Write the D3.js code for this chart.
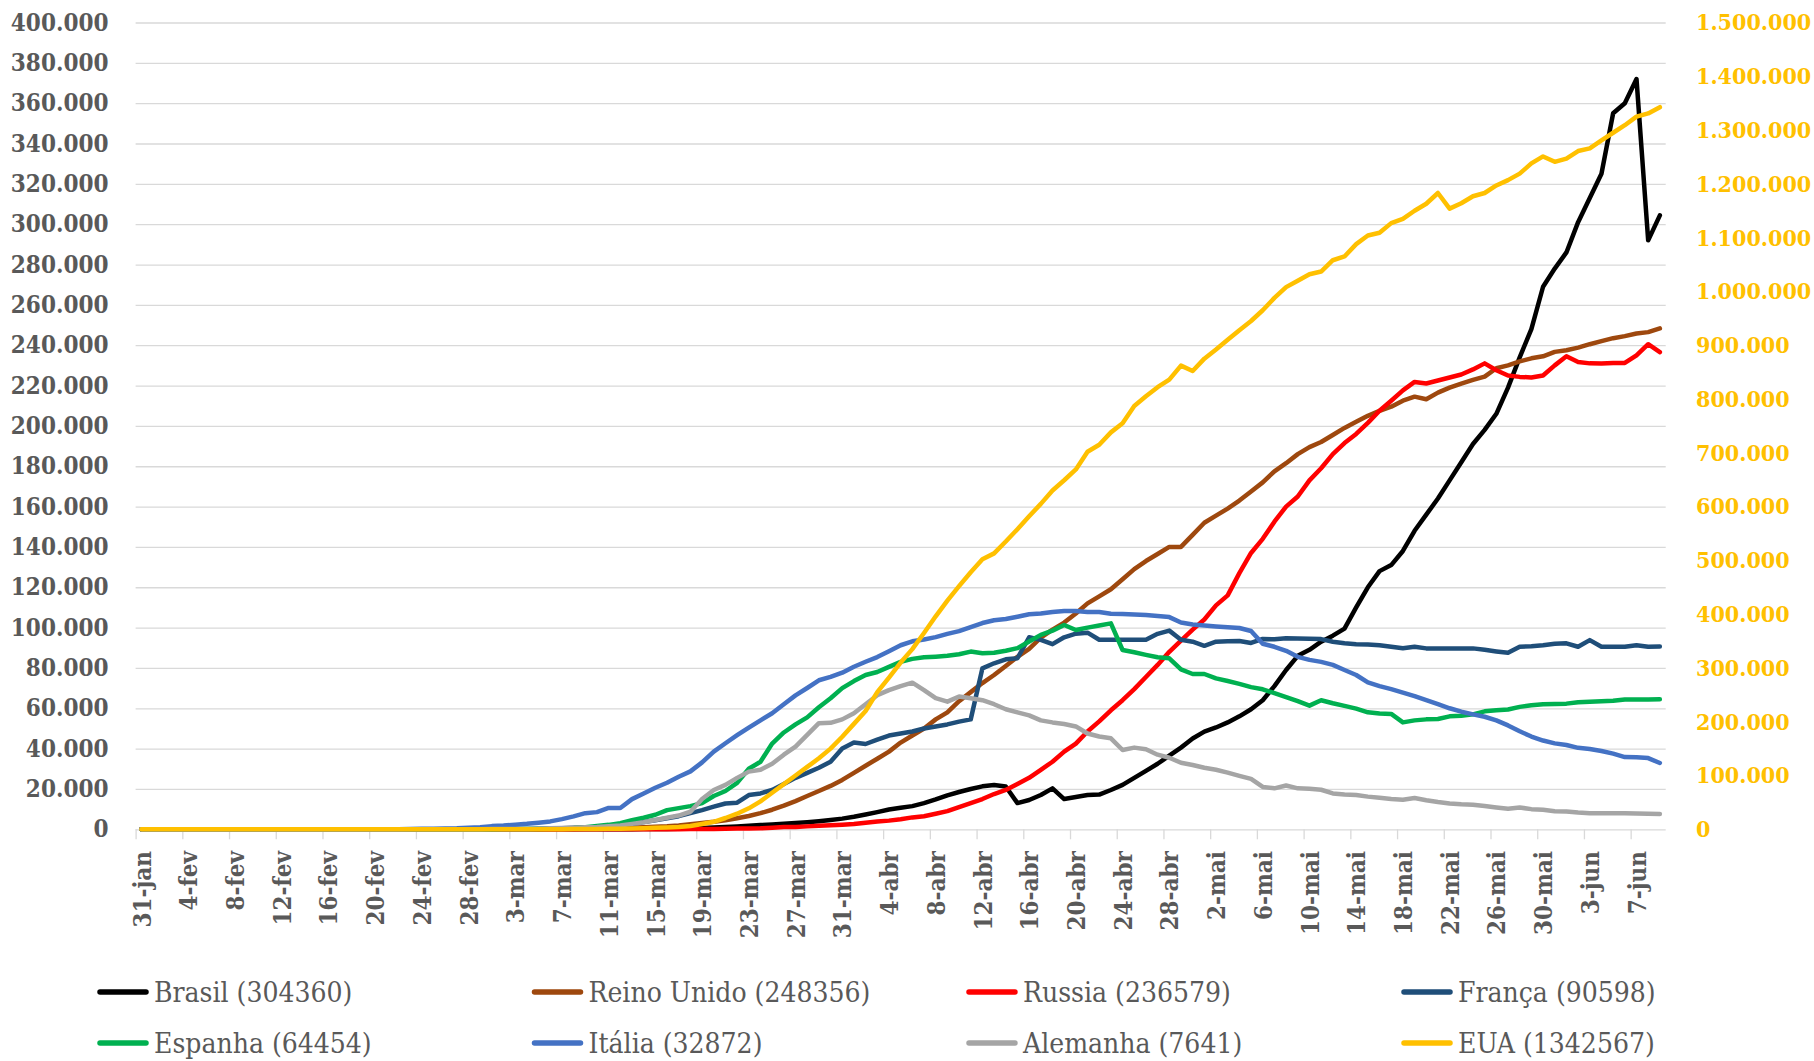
<!DOCTYPE html>
<html>
<head>
<meta charset="utf-8">
<script src="https://cdn.jsdelivr.net/npm/d3@7"></script>
<style>
  html, body { margin: 0; padding: 0; background: #ffffff; }
  svg { display: block; }
  .ax text { font-family: "DejaVu Serif Condensed", "DejaVu Serif", serif; font-stretch: condensed; font-weight: bold; }
  .leg text { font-family: "DejaVu Serif Condensed", "DejaVu Serif", serif; font-stretch: condensed; }
</style>
</head>
<body>
<svg id="chart" width="1814" height="1061"></svg>
<script>
// ---------- categories (31-jan .. 9-jun) ----------
const monthSpans = [["jan",31,31],["fev",1,29],["mar",1,31],["abr",1,30],["mai",1,31],["jun",1,9]];
const categories = monthSpans.flatMap(([m,a,b]) => d3.range(a, b + 1).map(d => d + "-" + m));

// ---------- tick labels ----------
const leftTicks  = [0,20000,40000,60000,80000,100000,120000,140000,160000,180000,200000,
                    220000,240000,260000,280000,300000,320000,340000,360000,380000,400000];
const rightTicks = [0,100000,200000,300000,400000,500000,600000,700000,800000,900000,
                    1000000,1100000,1200000,1300000,1400000,1500000];

// ---------- series ----------
const brasil = [
  0,0,0,0,0,0,0,0,0,0,
  0,0,0,0,0,0,0,0,0,0,
  0,0,0,0,0,0,1,1,1,2,
  2,2,2,4,4,13,13,20,25,31,
  38,52,76,97,119,198,232,287,600,900,
  1100,1400,1800,2100,2400,2700,3100,3500,4000,4600,
  5300,6200,7300,8500,9800,10700,11500,13000,14800,16800,
  18500,20000,21300,22000,21200,13000,14500,17000,20300,15000,
  16000,17000,17200,19500,22000,25500,29000,32500,36500,40500,
  45000,48400,50500,53000,56000,59500,64000,71000,79000,86000,
  89000,93000,96000,99500,110000,120000,128000,131000,138000,148000,
  156000,164000,173000,182000,191000,198000,206000,219000,234000,248000,
  269000,278000,286000,301000,313000,325000,355000,360000,372000,292000,
  304360];
const reinoUnido = [
  2,2,2,2,2,2,2,3,3,8,
  8,8,9,9,9,9,9,9,9,9,
  9,9,9,4,4,5,5,12,12,15,
  27,30,43,40,68,99,148,186,254,303,
  436,530,770,1050,1300,1480,1860,2540,3150,3750,
  4500,5500,6600,8000,9700,11700,14000,16500,19000,21500,
  24500,28000,31500,35000,38500,43000,46500,50000,54500,58000,
  63500,68000,72500,76500,81000,85500,89500,95000,99000,102500,
  107000,112000,115500,119000,124000,129000,133000,136500,140000,140000,
  146000,152000,155500,159000,163000,167500,172000,177500,181500,186000,
  189500,192000,195500,199000,202000,205000,207500,209500,212500,214500,
  213200,216500,219000,221000,222800,224400,228600,230000,232000,233500,
  234500,236700,237500,238800,240500,242000,243500,244500,245800,246500,
  248356];
const russia = [
  2,2,2,2,2,2,2,2,2,2,
  2,2,0,0,0,0,0,0,0,0,
  0,0,0,0,0,0,0,0,0,0,
  1,1,1,1,1,1,3,6,7,12,
  19,25,31,42,52,59,84,109,140,190,
  300,340,430,480,800,1100,1200,1450,1700,1950,
  2250,2600,3300,3850,4300,5000,5900,6500,7700,9000,
  11000,13000,15000,17500,19500,22500,25500,29500,33500,38500,
  42500,48500,53500,59000,64000,69500,75500,81500,88000,93500,
  99000,104000,111000,116000,127000,137000,144000,152500,160000,165000,
  173000,179000,186000,191500,196000,201500,207500,212500,217600,221800,
  221000,222500,224000,225500,228000,231000,227600,225000,224300,224000,
  225000,230000,234500,231700,231000,230900,231200,231200,235000,240500,
  236579];
const franca = [
  5,5,5,5,5,5,5,5,6,10,
  10,10,10,10,10,7,7,7,7,7,
  7,7,7,7,7,7,6,23,45,50,
  86,116,176,178,270,362,550,801,1050,1200,
  1700,2200,2800,3600,4500,5500,6500,8000,9500,11200,
  12800,13200,17000,17800,19500,22500,25500,28000,30500,33500,
  40000,43000,42300,44500,46500,47500,48500,50000,51000,52000,
  53400,54500,79800,82300,84300,84800,95200,93900,91800,95200,
  97000,97500,94000,94000,94000,94000,94000,96900,98500,94000,
  93000,91000,93000,93200,93400,92400,94400,94200,94700,94600,
  94500,94300,93000,92200,91800,91600,91300,90500,89800,90500,
  89700,89700,89700,89700,89700,89000,88200,87500,90500,90700,
  91200,92000,92200,90500,93800,90500,90500,90500,91300,90500,
  90598];
const espanha = [
  0,1,1,1,1,1,1,1,1,2,
  2,2,2,2,2,2,2,2,2,2,
  2,2,2,2,1,1,11,13,29,41,
  70,100,140,140,200,330,400,600,1000,1600,
  2200,3000,4500,5700,7200,9500,10500,11500,13000,16500,
  19000,23000,30000,33500,42500,48000,52000,55500,60500,65000,
  70000,73500,76500,78000,80500,83000,84500,85300,85600,86000,
  86800,88100,87300,87500,88500,89800,93100,96400,98500,101300,
  98800,100000,101000,102100,88900,87800,86500,85300,84800,79300,
  77000,77000,74800,73500,72100,70500,69400,67500,65500,63500,
  61300,64000,62500,61200,59800,58000,57400,57200,53000,54000,
  54500,54700,56000,56300,57000,58500,59000,59400,60700,61500,
  62000,62100,62300,63000,63200,63500,63700,64300,64300,64400,
  64454];
const italia = [
  2,2,2,2,2,2,2,3,3,3,
  3,3,3,3,3,3,3,3,3,3,
  3,17,76,150,221,311,385,528,821,1049,
  1577,1835,2263,2706,3296,3916,5061,6387,7985,8514,
  10590,10590,14955,17750,20603,23073,26062,28710,33190,38549,
  42681,46638,50418,54030,57521,62013,66414,70065,73880,75528,
  77635,80572,83049,85388,88274,91246,93187,94067,95262,96877,
  98273,100269,102253,103616,104291,105418,106607,106962,107771,108257,
  108237,107709,107699,106848,106800,106500,106300,105800,105200,102500,
  101500,101000,100600,100200,99800,98300,92000,90500,88500,85500,
  84000,83000,81500,79000,76500,72800,71000,69500,67800,66000,
  64000,62000,60000,58300,57000,55800,54000,51500,48600,46000,
  44000,42600,41800,40400,39800,38800,37500,35800,35700,35300,
  32872];
const alemanha = [
  5,5,7,9,11,11,11,11,11,13,
  13,14,14,14,15,15,14,14,14,14,
  2,2,2,2,2,2,7,14,35,40,
  100,113,141,176,244,468,645,781,1000,1100,
  1500,1900,2700,3500,4600,5700,6800,8700,15000,19500,
  22000,25500,28600,29500,32500,37000,41000,46800,52600,52800,
  54500,57500,62000,66500,69000,71000,72700,69000,65000,63300,
  65800,65000,64000,62000,59500,58000,56500,54000,53000,52200,
  51000,47500,46000,45100,39300,40500,39700,37000,35500,33000,
  31900,30500,29500,28100,26500,25000,21000,20300,21700,20300,
  20100,19600,17800,17300,17000,16200,15600,15000,14700,15500,
  14400,13500,12800,12400,12200,11500,10800,10200,10800,10000,
  9700,9000,8800,8300,8000,8000,7900,7900,7800,7700,
  7641];
const eua = [
  6,7,7,7,10,10,11,11,11,11,
  11,11,11,12,12,12,12,12,12,12,
  12,29,31,31,31,46,47,51,51,53,
  60,61,72,86,122,171,258,367,475,530,
  945,1203,1554,1985,2669,3400,4400,6300,10000,14000,
  21000,29000,39000,52000,68000,84000,100000,116000,132000,150000,
  172000,196000,220000,255000,282000,310000,335000,365000,396000,425000,
  452000,478000,502000,513000,535000,558000,582000,605000,630000,649000,
  669000,702000,715000,738000,755000,787000,805000,822000,836000,862000,
  852000,875000,892000,910000,928000,945000,965000,988000,1008000,1020000,
  1032000,1037000,1058000,1065000,1088000,1104000,1109000,1127000,1135000,1150000,
  1163000,1183000,1154000,1164000,1177000,1183000,1197000,1207000,1219000,1238000,
  1251000,1241000,1247000,1261000,1266000,1281000,1295000,1309000,1325000,1331000,
  1342567];

const seriesNames  = ["Brasil","Reino Unido","Russia","França","Espanha","Itália","Alemanha","EUA"];
const seriesValues = [brasil, reinoUnido, russia, franca, espanha, italia, alemanha, eua];
const seriesAxis   = ["L","L","L","L","L","L","L","R"];
const seriesColors = ["#000000","#9E480E","#FF0000","#1F4E79","#00B050","#4472C4","#A5A5A5","#FFC000"];

// ---------- layout ----------
const W = 1814, H = 1061;
const x0 = 135.6, x1 = 1665.7, yTop = 22.5, yBot = 829.3;

const svg = d3.select("#chart");
svg.append("rect").attr("width", W).attr("height", H).attr("fill", "#ffffff");

const loc = d3.formatLocale({decimal: ",", thousands: ".", grouping: [3], currency: ["", ""]});
const fmt = loc.format(",.0f");

const xP = d3.scalePoint().domain(categories).range([x0, x1]).padding(0.5);
const xIdx = d3.scaleLinear().domain([0, categories.length]).range([x0, x1]);
const yL = d3.scaleLinear().domain([0, 400000]).range([yBot, yTop]);
const yR = d3.scaleLinear().domain([0, 1500000]).range([yBot, yTop]);

// gridlines
const grid = svg.append("g").attr("transform", `translate(${x0},0)`)
  .call(d3.axisLeft(yL).tickValues(leftTicks).tickSize(-(x1 - x0)).tickFormat(""));
grid.select(".domain").remove();
grid.selectAll("line").attr("stroke", "#D9D9D9").attr("stroke-width", 1.3);

// x-axis tick marks at category boundaries
const xt = svg.append("g").attr("transform", `translate(0,${yBot})`)
  .call(d3.axisBottom(xIdx).tickValues(d3.range(0, 129, 4)).tickSize(10).tickFormat(""));
xt.select(".domain").remove();
xt.selectAll("line").attr("stroke", "#D9D9D9").attr("stroke-width", 1.3);

// left axis labels
const la = svg.append("g").attr("class", "ax").attr("transform", `translate(${x0},0)`)
  .call(d3.axisLeft(yL).tickValues(leftTicks).tickSize(0).tickPadding(x0 - 108.5).tickFormat(fmt));
la.select(".domain").remove();
la.selectAll("text").attr("fill", "#595959").style("font-size", "24px");

// right axis labels
const ra = svg.append("g").attr("class", "ax").attr("transform", `translate(${x1},0)`)
  .call(d3.axisRight(yR).tickValues(rightTicks).tickSize(0).tickPadding(1696 - x1).tickFormat(fmt));
ra.select(".domain").remove();
ra.selectAll("text").attr("fill", "#FFC000").style("font-size", "23px");

// bottom category labels (every 4th)
const labelCats = categories.filter((c, i) => i % 4 === 0);
const ba = svg.append("g").attr("class", "ax").attr("transform", `translate(0,${yBot})`)
  .call(d3.axisBottom(xP).tickValues(labelCats).tickSize(0));
ba.select(".domain").remove();
ba.selectAll("text")
  .attr("x", 0).attr("y", 0).attr("dy", "0.36em")
  .attr("text-anchor", "end")
  .attr("transform", `translate(0,${851 - yBot}) rotate(-90)`)
  .attr("fill", "#595959").style("font-size", "24px");

// lines
seriesValues.forEach((vals, s) => {
  const ys = seriesAxis[s] === "R" ? yR : yL;
  const line = d3.line().x((d, i) => xP(categories[i])).y(d => ys(d));
  svg.append("path")
    .datum(vals)
    .attr("d", line)
    .attr("fill", "none")
    .attr("stroke", seriesColors[s])
    .attr("stroke-width", 4.5)
    .attr("stroke-linejoin", "round")
    .attr("stroke-linecap", "round");
});

// legend
const legX = [98, 532.5, 967, 1402];
const legY = [992, 1043];
const leg = svg.append("g").attr("class", "leg");
seriesNames.forEach((name, s) => {
  const cx = legX[s % 4], cy = legY[Math.floor(s / 4)];
  const vals = seriesValues[s];
  leg.append("line").attr("x1", cx + 2).attr("x2", cx + 48).attr("y1", cy).attr("y2", cy)
    .attr("stroke", seriesColors[s]).attr("stroke-width", 5.5).attr("stroke-linecap", "round");
  leg.append("text").attr("x", cx + 56).attr("y", cy).attr("dy", "0.36em")
    .attr("fill", "#595959").style("font-size", "28px")
    .text(`${name} (${vals[vals.length - 1]})`);
});
</script>
</body>
</html>
